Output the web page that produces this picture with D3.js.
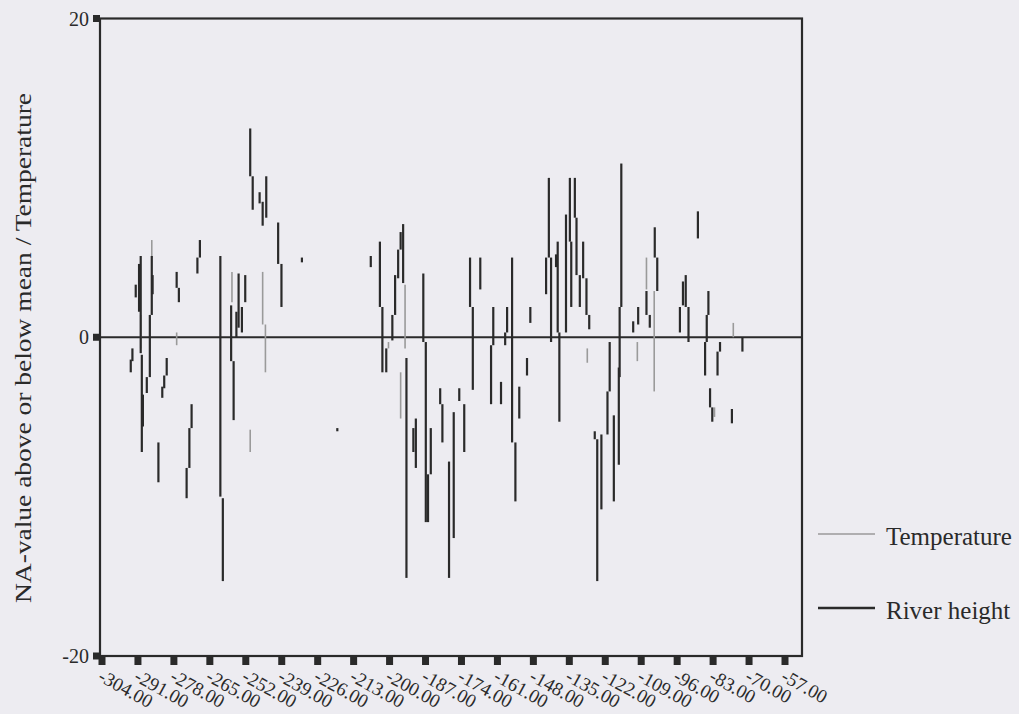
<!DOCTYPE html>
<html>
<head>
<meta charset="utf-8">
<script src="https://cdn.jsdelivr.net/npm/d3@7"></script>
<style>
  body { margin: 0; background: #edecf1; }
  svg { display: block; }
</style>
</head>
<body>
<div id="chart"></div>
<script>
// year ticks on the bottom axis
var xTicks = [-304, -291, -278, -265, -252, -239, -226, -213, -200, -187,
  -174, -161, -148, -135, -122, -109, -96, -83, -70, -57];
var yTicks = [-20, 0, 20];

// river height: each entry is one vertical stroke (x, from, to)
var riverX = [-293.0, -293.6, -291.8, -290.6, -290.0, -289.6, -289.2, -286.0, -285.7, -286.7,
  -287.8, -277.0, -276.2, -268.6, -269.5, -280.6, -281.5, -282.2, -271.6, -272.4,
  -273.4, -283.6,
  -250.4, -249.5, -247.0, -245.9, -244.6, -240.3, -239.1, -231.7, -261.2, -260.3,
  -257.3, -256.4, -254.6, -253.4, -252.2, -255.4,
  -218.9, -206.8, -203.5, -202.6, -201.2, -199.0, -198.0, -196.9, -196.0, -195.1,
  -193.9, -187.8, -186.9, -190.5, -191.4, -185.1, -186.1, -181.7, -180.9, -178.5,
  -176.8, -174.8, -173.0, -170.9, -169.9, -167.2, -162.5, -163.3, -159.7, -158.2,
  -157.5, -155.7, -154.5, -153.1, -150.3, -149.1, -142.4, -143.4, -141.6, -139.8,
  -139.2, -138.6, -136.2,
  -134.8, -134.3, -133.0, -132.4, -131.2, -130.0, -128.8, -127.8, -120.4, -121.2,
  -123.4, -125.8, -124.9, -118.9, -117.1, -116.2, -116.8, -111.9, -110.1, -107.1,
  -105.9, -104.1, -103.2, -95.0, -93.9,
  -92.9, -91.9, -88.5, -84.7, -85.3, -85.9, -80.5, -81.4, -72.4, -84.1,
  -83.3, -76.2];
var riverFrom = [-0.7, -1.4, 3.3, 4.6, 5.1, -1.1, -3.6, 5.1, 3.9, 1.4,
  -2.5, 4.1, 3.1, 6.1, 5.0, -1.3, -2.4, -3.1, -4.2, -5.7,
  -8.2, -6.6,
  13.1, 10.1, 9.1, 8.5, 10.1, 7.2, 4.6, 5.0, 5.1, -10.1,
  2.0, -1.5, 4.0, 1.9, 3.9, 1.6,
  -5.7, 5.1, 6.0, 1.9, -0.7, 1.4, 3.9, 5.5, 6.6, 7.1,
  -1.3, 4.0, -0.3, -5.1, -5.7, -5.7, -8.6, -3.2, -4.2, -7.8,
  -4.7, -3.2, -4.2, 5.0, 1.9, 5.0, 1.9, -0.5, -2.8, 0.3,
  1.9, 5.0, -6.6, -3.1, -1.3, 1.9, 10.0, 5.0, 5.0, 5.2,
  6.0, 0.3, 7.7,
  10.0, 6.0, 10.0, 7.5, 3.9, 6.0, 3.7, 1.4, -0.3, -3.4,
  -6.1, -5.9, -6.4, -4.9, -1.9, 10.9, 1.9, 1.0, 1.9, 2.9,
  1.4, 6.9, 5.0, 1.9, 3.5,
  3.9, 1.9, 7.9, 2.9, 1.4, -0.3, -0.3, -0.9, 0.0, -3.2,
  -4.4, -4.5];
var riverTo = [-1.5, -2.2, 2.5, 1.6, -1.0, -7.2, -5.6, 1.4, 2.7, -2.5,
  -3.5, 3.1, 2.2, 5.0, 4.0, -2.4, -3.2, -3.8, -5.7, -8.2,
  -10.1, -9.1,
  10.1, 8.0, 8.4, 7.0, 7.5, 4.6, 1.9, 4.7, -10.0, -15.3,
  -1.5, -5.2, 0.6, 0.3, 2.2, 0.0,
  -5.9, 4.4, 1.9, -2.2, -2.2, -0.2, 1.4, 3.7, 5.5, 3.4,
  -15.1, -0.3, -11.6, -8.2, -7.2, -8.6, -11.6, -4.2, -6.6, -15.1,
  -12.6, -4.0, -7.2, 1.9, -3.3, 3.0, -0.5, -4.2, -4.2, -0.5,
  0.3, -6.6, -10.3, -5.1, -2.4, 0.9, 5.0, 2.7, -0.3, 4.4,
  0.3, -5.3, 0.3,
  6.0, 1.9, 7.5, 3.9, 1.9, 3.7, 1.4, 0.5, -3.4, -6.1,
  -10.8, -6.4, -15.3, -10.3, -8.0, 1.9, -2.5, 0.3, 0.8, 1.4,
  0.6, 5.0, 2.9, 0.3, 2.0,
  1.9, -0.3, 6.2, 1.4, -0.3, -2.4, -0.9, -2.4, -0.9, -4.4,
  -5.3, -5.4];

// temperature strokes
var tempX = [-286.0, -290.0, -277.0, -257.0, -245.9, -244.9, -250.4, -194.4, -196.0, -200.4,
  -107.1, -104.3, -110.4, -128.5, -75.7, -82.5];
var tempFrom = [6.1, 1.4, 0.3, 4.1, 4.1, 0.8, -5.8, 3.3, -2.2, -0.3,
  5.0, 2.9, -0.3, -0.7, 0.9, -4.4];
var tempTo = [5.0, -0.7, -0.5, 2.2, 0.8, -2.2, -7.2, -0.7, -5.1, -0.7,
  3.0, -3.4, -1.5, -1.6, 0.0, -5.0];

var seriesNames = ["Temperature", "River height"];

var width = 1019, height = 714;
var frame = {left: 100, right: 802, top: 18.5, bottom: 656};
var ink = "#2a2a2a", grey = "#9a9a9a";

var x = d3.scaleLinear().domain([-304, -57]).range([102, 785]);
var y = d3.scaleLinear().domain([-20, 20]).range([frame.bottom, frame.top]);

var svg = d3.select("#chart").append("svg")
  .attr("width", width).attr("height", height);

svg.append("rect").attr("width", width).attr("height", height).attr("fill", "#edecf1");

// zero line
svg.append("line")
  .attr("x1", frame.left).attr("x2", frame.right)
  .attr("y1", y(0)).attr("y2", y(0))
  .attr("stroke", ink).attr("stroke-width", 2);

// temperature first so the river strokes sit on top
svg.append("g").selectAll("line")
  .data(tempX.map(function(d, i) { return {x: d, a: tempFrom[i], b: tempTo[i]}; }))
  .enter().append("line")
  .attr("x1", function(d) { return x(d.x); })
  .attr("x2", function(d) { return x(d.x); })
  .attr("y1", function(d) { return y(d.a); })
  .attr("y2", function(d) { return y(d.b); })
  .attr("stroke", grey).attr("stroke-width", 1.6);

svg.append("g").selectAll("line")
  .data(riverX.map(function(d, i) { return {x: d, a: riverFrom[i], b: riverTo[i]}; }))
  .enter().append("line")
  .attr("x1", function(d) { return x(d.x); })
  .attr("x2", function(d) { return x(d.x); })
  .attr("y1", function(d) { return y(d.a); })
  .attr("y2", function(d) { return y(d.b); })
  .attr("stroke", ink).attr("stroke-width", 2.2);

// frame
svg.append("rect")
  .attr("x", frame.left).attr("y", frame.top)
  .attr("width", frame.right - frame.left).attr("height", frame.bottom - frame.top)
  .attr("fill", "none").attr("stroke", ink).attr("stroke-width", 2.2);

// y ticks
svg.append("g").selectAll("rect")
  .data(yTicks).enter().append("rect")
  .attr("x", frame.left - 7).attr("y", function(d) { return y(d) - 3.5; })
  .attr("width", 7).attr("height", 7).attr("fill", ink);

svg.append("g").selectAll("text")
  .data(yTicks).enter().append("text")
  .attr("x", 89).attr("y", function(d) { return y(d) + 7; })
  .attr("text-anchor", "end")
  .attr("font-family", "Liberation Serif, serif").attr("font-size", 20)
  .attr("fill", ink)
  .text(function(d) { return d; });

// x ticks: square markers under the axis
svg.append("g").selectAll("rect")
  .data(xTicks).enter().append("rect")
  .attr("x", function(d) { return x(d) - 3.5; }).attr("y", frame.bottom + 1)
  .attr("width", 7).attr("height", 8).attr("fill", ink);

svg.append("g").selectAll("text")
  .data(xTicks).enter().append("text")
  .attr("transform", function(d) { return "translate(" + (x(d) - 5) + "," + 680 + ") rotate(29)"; })
  .attr("font-family", "Liberation Serif, serif").attr("font-size", 19)
  .attr("fill", ink)
  .text(function(d) { return d.toFixed(2); });

// y axis title
svg.append("text")
  .attr("transform", "translate(31,348) rotate(-90)")
  .attr("text-anchor", "middle")
  .attr("font-family", "Liberation Serif, serif").attr("font-size", 23)
  .attr("textLength", 510).attr("lengthAdjust", "spacingAndGlyphs")
  .attr("fill", ink)
  .text("NA-value above or below mean / Temperature");

// legend
var legend = svg.append("g").selectAll("g")
  .data(seriesNames).enter().append("g")
  .attr("transform", function(d, i) { return "translate(818," + (534 + i * 74) + ")"; });

legend.append("line")
  .attr("x1", 0).attr("x2", 57)
  .attr("stroke", function(d, i) { return i === 0 ? grey : ink; })
  .attr("stroke-width", function(d, i) { return i === 0 ? 1.6 : 2.4; });

legend.append("text")
  .attr("x", 68).attr("y", 11)
  .attr("font-family", "Liberation Serif, serif").attr("font-size", 25)
  .attr("fill", ink)
  .text(function(d) { return d; });
</script>
</body>
</html>
